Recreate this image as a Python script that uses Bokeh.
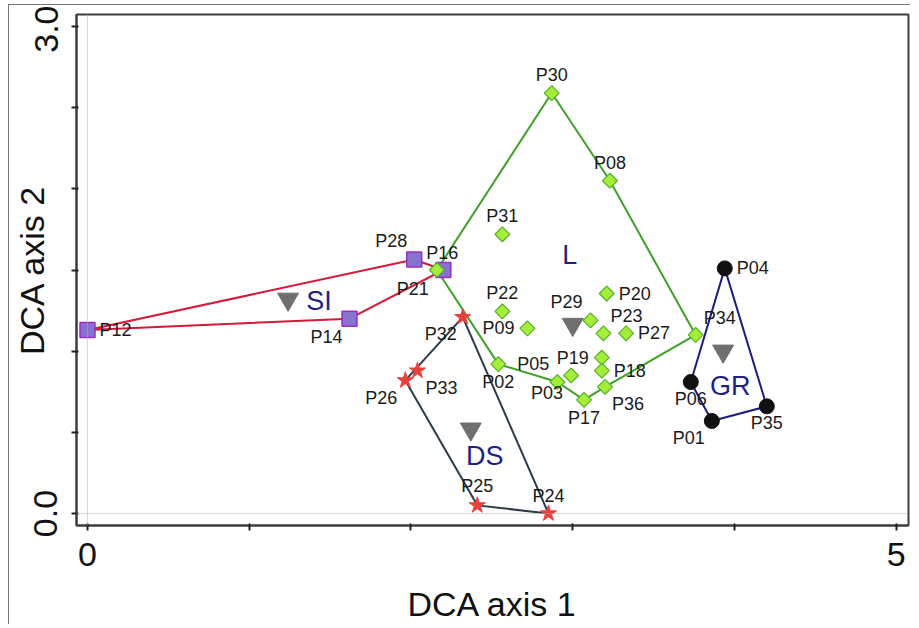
import numpy as np
from bokeh.plotting import figure
from bokeh.models import Range1d, FixedTicker, Span, ColumnDataSource
from bokeh.core.properties import value
from bokeh.embed import file_html
from bokeh.resources import INLINE

# ---------------- data (DCA scores) ----------------
si_names = ["P12", "P14", "P28", "P16"]
si_x = [0.00, 1.62, 2.02, 2.20]
si_y = [1.13, 1.20, 1.565, 1.50]
si_hull = ["P12", "P28", "P16", "P14", "P12"]

l_names = ["P21", "P30", "P08", "P34", "P36", "P17", "P05", "P03", "P02",
           "P19", "P18", "P09", "P22", "P29", "P23", "P27", "P20", "P31"]
l_x = [2.16, 2.87, 3.23, 3.76, 3.20, 3.07, 2.905, 2.99, 2.54,
       3.18, 3.18, 2.72, 2.565, 3.11, 3.19, 3.33, 3.21, 2.565]
l_y = [1.50, 2.59, 2.05, 1.10, 0.78, 0.70, 0.81, 0.85, 0.92,
       0.96, 0.88, 1.14, 1.245, 1.19, 1.11, 1.11, 1.355, 1.72]
l_hull = ["P21", "P30", "P08", "P34", "P36", "P17", "P05", "P02", "P21"]

ds_names = ["P32", "P33", "P26", "P25", "P24"]
ds_x = [2.32, 2.04, 1.965, 2.41, 2.85]
ds_y = [1.21, 0.88, 0.82, 0.05, 0.00]
ds_hull = ["P32", "P26", "P25", "P24", "P32"]

gr_names = ["P04", "P06", "P01", "P35"]
gr_x = [3.94, 3.73, 3.86, 4.20]
gr_y = [1.51, 0.81, 0.57, 0.66]
gr_hull = ["P04", "P35", "P01", "P06", "P04"]

group_names = ["SI", "L", "DS", "GR"]
centroid_x = [1.24, 3.00, 2.37, 3.93]
centroid_y = [1.32, 1.165, 0.52, 1.00]

x_ticks = [0, 1, 2, 3, 4, 5]
y_ticks = [0, 0.5, 1, 1.5, 2, 2.5, 3]
x_tick_labels = {0: "0", 5: "5"}
y_tick_labels = {0: "0.0", 3: "3.0"}

# ---------------- label placement (pixels, style only) ----------------
label_offset = {
    "P12": (28, 0), "P14": (-23, 18), "P28": (-23, -18), "P16": (-1, -17),
    "P21": (-24, 19), "P30": (0, -18), "P08": (0, -18), "P34": (24, -17),
    "P36": (23, 17), "P17": (0, 18), "P05": (-24, -18), "P03": (-24, 17),
    "P02": (0, 18), "P19": (-29, 0), "P18": (28, 0), "P09": (-29, 0),
    "P22": (0, -18), "P29": (-24, -18), "P23": (23, -17), "P27": (28, 0),
    "P20": (28, 0), "P31": (0, -18),
    "P32": (-22, 17), "P33": (24, 17), "P26": (-24, 18), "P25": (0, -19),
    "P24": (0, -17),
    "P04": (28, 0), "P06": (0, 17), "P01": (-23, 17), "P35": (0, 17),
}
group_offset = {"SI": (31, 2), "L": (-3, -69), "DS": (14, 27), "GR": (7, 35)}

FONT = "Liberation Sans"

p = figure(width=902, height=620, output_backend="svg", toolbar_location=None,
           x_range=Range1d(-0.068, 5.076), y_range=Range1d(-0.074, 3.074),
           min_border_left=67, min_border_right=3, min_border_top=9,
           min_border_bottom=100)
p.styles = {"margin-left": "8px", "margin-top": "4px",
            "border-left": "1px solid #777777", "border-top": "1px solid #777777"}
p.grid.visible = False
p.outline_line_color = "#3c3c3c"
p.outline_line_width = 2
p.background_fill_color = "white"
p.border_fill_color = "white"

for ax in (p.xaxis[0], p.yaxis[0]):
    ax.axis_line_color = "#3c3c3c"
    ax.axis_line_width = 2
    ax.major_tick_line_color = "#222222"
    ax.major_tick_line_width = 2
    ax.major_tick_out = 5
    ax.major_tick_in = 2
    ax.minor_tick_line_color = None
    ax.major_label_text_font = FONT
    ax.major_label_text_font_size = "34px"
    ax.major_label_text_color = "#111111"
    ax.axis_label_text_font = FONT
    ax.axis_label_text_font_size = "34px"
    ax.axis_label_text_font_style = "normal"
    ax.axis_label_text_color = "#111111"

p.xaxis.ticker = FixedTicker(ticks=x_ticks)
p.yaxis.ticker = FixedTicker(ticks=y_ticks)
p.xaxis.major_label_overrides = {t: x_tick_labels.get(t, "") for t in x_ticks}
p.yaxis.major_label_overrides = {t: y_tick_labels.get(t, "") for t in y_ticks}
p.yaxis.major_label_orientation = "vertical"
p.xaxis.axis_label = "DCA axis 1"
p.yaxis.axis_label = "DCA axis 2"
p.xaxis.major_label_standoff = 12
p.xaxis.axis_label_standoff = 16
p.yaxis.major_label_standoff = 14
p.yaxis.axis_label_standoff = -19

# reference lines at 0
p.add_layout(Span(location=0, dimension="height", line_color="#b0b0b0",
                  line_width=1, line_dash="1 1"))
p.add_layout(Span(location=0, dimension="width", line_color="#b0b0b0",
                  line_width=1, line_dash="1 1"))


def hull_xy(names, xs, ys, hull):
    idx = {n: i for i, n in enumerate(names)}
    return [xs[idx[n]] for n in hull], [ys[idx[n]] for n in hull]


# hull lines
for names, xs, ys, hull, col in [
        (si_names, si_x, si_y, si_hull, "#d41a3a"),
        (ds_names, ds_x, ds_y, ds_hull, "#2c3b4b"),
        (gr_names, gr_x, gr_y, gr_hull, "#1c1c82"),
        (l_names, l_x, l_y, l_hull, "#3da127")]:
    hx, hy = hull_xy(names, xs, ys, hull)
    p.line(hx, hy, line_color=col, line_width=2)

# centroids
p.scatter(centroid_x, centroid_y, marker="inverted_triangle", size=21,
          fill_color="#6f6f6f", line_color="#6f6f6f")

# points
p.scatter(si_x, si_y, marker="square", size=15, fill_color="#8773cf",
          line_color="#9b2fc0", line_width=1.5)
p.scatter(ds_x, ds_y, marker="star", size=17, fill_color="#e8403c",
          line_color="#e8403c")
p.scatter(gr_x, gr_y, marker="circle", size=15, fill_color="#111111",
          line_color="#111111")
p.scatter(l_x, l_y, marker="square", angle=np.pi / 4, size=10.5,
          fill_color="#a4ee3a", line_color="#56b02a", line_width=1.2)

# point labels
all_names = si_names + l_names + ds_names + gr_names
all_x = si_x + l_x + ds_x + gr_x
all_y = si_y + l_y + ds_y + gr_y
lab_src = ColumnDataSource(dict(
    x=all_x, y=all_y, text=all_names,
    dx=[label_offset[n][0] for n in all_names],
    dy=[label_offset[n][1] for n in all_names]))
p.text(x="x", y="y", text="text", x_offset="dx", y_offset="dy", source=lab_src,
       text_font=value(FONT), text_font_size="18px", text_color="#1a1a1a",
       text_align="center", text_baseline="middle")

grp_src = ColumnDataSource(dict(
    x=centroid_x, y=centroid_y, text=group_names,
    dx=[group_offset[g][0] for g in group_names],
    dy=[group_offset[g][1] for g in group_names]))
p.text(x="x", y="y", text="text", x_offset="dx", y_offset="dy", source=grp_src,
       text_font=value(FONT), text_font_size="27px", text_color="#1f1f86",
       text_align="center", text_baseline="middle")

open("out.html", "w").write(file_html(p, INLINE))
